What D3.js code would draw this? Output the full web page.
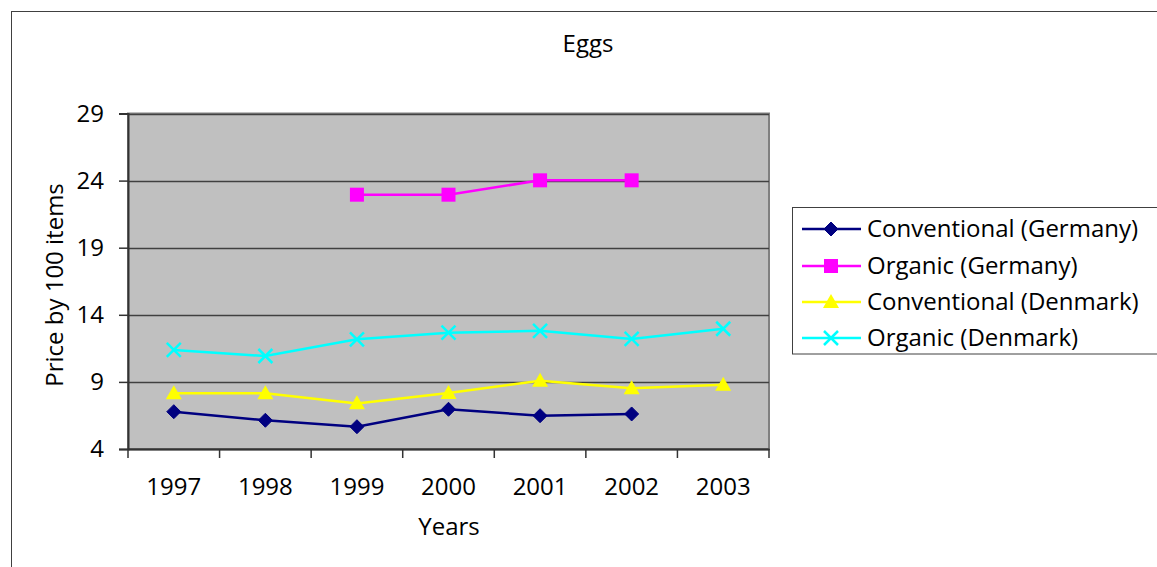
<!DOCTYPE html>
<html><head><meta charset="utf-8">
<script src="https://cdn.jsdelivr.net/npm/d3@7"></script>
<style>body{margin:0;background:#fff}svg{display:block}text{font-family:"Open Sans","Liberation Sans",Arial,sans-serif;fill:#000}</style>
</head><body>
<svg id="c" width="1157" height="567"></svg>
<script>
const years = ["1997","1998","1999","2000","2001","2002","2003"];
const convGermany = [6.78, 6.14, 5.66, 6.96, 6.48, 6.61, null];
const orgGermany = [null, null, 22.95, 22.95, 24.02, 24.02, null];
const convDenmark = [8.15, 8.15, 7.4, 8.18, 9.09, 8.52, 8.79];
const orgDenmark = [11.38, 10.93, 12.17, 12.67, 12.81, 12.2, 12.96];
const yTicks = [4, 9, 14, 19, 24, 29];
const seriesNames = ["Conventional (Germany)","Organic (Germany)","Conventional (Denmark)","Organic (Denmark)"];

const series = [
  {name: seriesNames[0], values: convGermany, color: "#000080", marker: "diamond"},
  {name: seriesNames[1], values: orgGermany, color: "#ff00ff", marker: "square"},
  {name: seriesNames[2], values: convDenmark, color: "#ffff00", marker: "triangle"},
  {name: seriesNames[3], values: orgDenmark, color: "#00ffff", marker: "x"}
];

const svg = d3.select("#c");
const L = 128, R = 769, T = 113.5, B = 449;
const x = d3.scaleBand().domain(years).range([L, R]);
const y = d3.scaleLinear().domain([4, 29]).range([B, T]);

// outer frame
svg.append("rect").attr("x", 11.5).attr("y", 11.5).attr("width", 1160).attr("height", 570)
  .attr("fill", "#fff").attr("stroke", "#404040").attr("stroke-width", 1);

// plot background
svg.append("rect").attr("x", L).attr("y", T).attr("width", R - L).attr("height", B - T)
  .attr("fill", "#c0c0c0").attr("stroke", "#808080").attr("stroke-width", 2);

// gridlines
svg.append("g").selectAll("line").data(yTicks).join("line")
  .attr("x1", L).attr("x2", R).attr("y1", d => Math.round(y(d)) + 0.5).attr("y2", d => Math.round(y(d)) + 0.5)
  .attr("stroke", "#404040").attr("stroke-width", 1.5);

// y axis
const yAxis = svg.append("g").attr("transform", `translate(${L},0)`)
  .call(d3.axisLeft(y).tickValues(yTicks).tickSize(9).tickPadding(15));
yAxis.select(".domain").attr("stroke", "#333").attr("stroke-width", 2);
yAxis.selectAll(".tick line").attr("stroke", "#333").attr("stroke-width", 1.5);
yAxis.selectAll("text").style("font-size", "24px").attr("font-family", null);

// x axis
const xAxis = svg.append("g").attr("transform", `translate(0,${B})`)
  .call(d3.axisBottom(x).tickSize(0).tickPadding(24));
xAxis.select(".domain").attr("stroke", "#333").attr("stroke-width", 2);
xAxis.selectAll("text").style("font-size", "24px").attr("font-family", null).attr("y", 46).attr("dy", null);
// category boundary ticks
const bounds = years.map(d => x(d)).concat([R]);
svg.append("g").selectAll("line").data(bounds).join("line")
  .attr("x1", d => d).attr("x2", d => d).attr("y1", B).attr("y2", B + 9)
  .attr("stroke", "#333").attr("stroke-width", 1.5);

const cx = d => x(d) + x.bandwidth() / 2;

function drawMarker(g, type, color) {
  if (type === "diamond") {
    g.append("path").attr("d", "M0,-7L7,0L0,7L-7,0Z").attr("fill", color).attr("stroke", color);
  } else if (type === "square") {
    g.append("rect").attr("x", -7).attr("y", -7).attr("width", 14).attr("height", 14).attr("fill", color);
  } else if (type === "triangle") {
    g.append("path").attr("d", "M0,-8L8,6L-8,6Z").attr("fill", color);
  } else {
    g.append("path").attr("d", "M-7,-7L7,7M7,-7L-7,7").attr("stroke", color).attr("stroke-width", 2.5).attr("fill", "none");
  }
}

series.forEach(s => {
  const pts = years.map((yr, i) => ({yr, v: s.values[i]})).filter(p => p.v != null);
  const line = d3.line().x(p => cx(p.yr)).y(p => y(p.v));
  svg.append("path").datum(pts).attr("d", line).attr("fill", "none")
    .attr("stroke", s.color).attr("stroke-width", 2.5);
  pts.forEach(p => {
    const g = svg.append("g").attr("transform", `translate(${cx(p.yr)},${y(p.v)})`);
    drawMarker(g, s.marker, s.color);
  });
});

// title
svg.append("text").attr("x", 588).attr("y", 52).attr("text-anchor", "middle").style("font-size", "24px").text("Eggs");
// axis titles
svg.append("text").attr("x", 449).attr("y", 535).attr("text-anchor", "middle").style("font-size", "24px").text("Years");
svg.append("text").attr("transform", "translate(63,285) rotate(-90)").attr("text-anchor", "middle")
  .style("font-size", "24px").text("Price by 100 items");

// legend
const lg = svg.append("g");
lg.append("rect").attr("x", 792.5).attr("y", 207.5).attr("width", 380).attr("height", 146.5)
  .attr("fill", "#fff").attr("stroke", "#404040").attr("stroke-width", 1);
const ly = [229, 266, 302, 338];
series.forEach((s, i) => {
  lg.append("line").attr("x1", 802).attr("x2", 861).attr("y1", ly[i]).attr("y2", ly[i])
    .attr("stroke", s.color).attr("stroke-width", 2.5);
  const g = lg.append("g").attr("transform", `translate(831,${ly[i]})`);
  drawMarker(g, s.marker, s.color);
  lg.append("text").attr("x", 867).attr("y", ly[i]).attr("dy", "0.35em").style("font-size", "24px").text(s.name);
});
</script>
</body></html>
